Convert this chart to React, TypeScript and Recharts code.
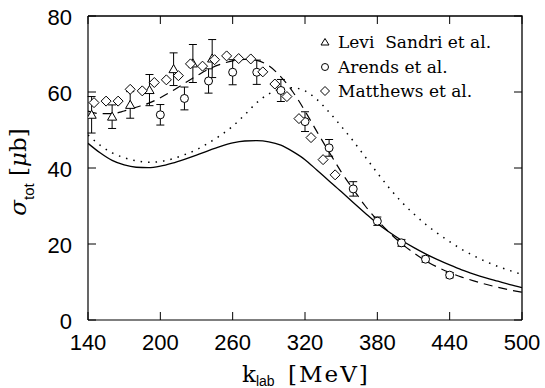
import { ComposedChart, Line, Scatter, XAxis, YAxis, ErrorBar, Legend, Label } from 'recharts';

// photon energy grid for the model curves (MeV)
const energyGrid = [140, 150, 160, 170, 180, 190, 200, 210, 220, 230, 240, 250, 260, 270, 280, 290, 300, 310, 320, 330, 340, 350, 360, 370, 380, 390, 400, 410, 420, 430, 440, 450, 460, 470, 480, 490, 500];
const solidCurve = [46.5, 44, 42, 40.8, 40.2, 40.1, 40.5, 41.3, 42.3, 43.4, 44.6, 45.7, 46.6, 47.1, 47.2, 46.9, 46, 44.3, 42.2, 39.4, 36.6, 33.8, 30.9, 28.1, 25.4, 23.1, 21, 19.1, 17.4, 15.9, 14.5, 13.2, 12.1, 11.1, 10.2, 9.3, 8.5];
const dottedCurve = [48.7, 46, 44, 42.7, 41.9, 41.5, 41.7, 42.4, 43.5, 44.8, 46.6, 48.6, 51, 54, 57.2, 59.5, 60.8, 61.1, 60.3, 58, 54.7, 51, 47.1, 42.9, 38.7, 34.7, 31.1, 28, 25.2, 22.8, 20.6, 18.6, 16.9, 15.4, 14.1, 13, 12];
const dashedCurve = [55, 54.3, 54.3, 55, 56, 57, 58.5, 60.3, 62.3, 64.2, 66, 67.3, 68.2, 68.6, 68.3, 66.9, 64, 60, 55, 49.5, 44.2, 39, 34.4, 30, 26.3, 23, 20.1, 17.7, 15.6, 13.9, 12.5, 11.3, 10.3, 9.4, 8.6, 7.9, 7.3];

// Levi Sandri et al.
const leviX = [143, 160, 175, 191, 211, 227, 243];
const leviY = [54, 53.5, 56.6, 60.5, 66, 67.5, 68.8];
const leviErr = [4.8, 3.1, 3.5, 4.1, 4.3, 5, 5];

// Arends et al.
const arendsX = [200, 220, 240, 260, 280, 300, 320, 340, 360, 380, 400, 420, 440];
const arendsY = [54, 58.3, 62.9, 65.2, 65.2, 60.4, 52.2, 45.3, 34.5, 26, 20.3, 16, 11.8];
const arendsErr = [2.7, 3, 3.2, 3.3, 3.2, 2.9, 2.6, 2.2, 1.9, 1.1, 0.9, 0.8, 0.7];

// Matthews et al.
const matthewsX = [145, 155, 165, 175, 185, 195, 205, 215, 225, 235, 245, 255, 265, 275, 285, 295, 305, 315, 325, 335, 345];
const matthewsY = [57.2, 57.6, 57.6, 60.7, 60.3, 62.5, 63.2, 64.3, 67.4, 66.8, 68.5, 69.5, 68.8, 68.7, 65.3, 62.1, 58.8, 53, 48, 42.2, 38.2];

const xTicks = [140, 200, 260, 320, 380, 440, 500];
const yTicks = [0, 20, 40, 60, 80];
const xDomain = [140, 500];
const yDomain = [0, 80];

const toRows = (xs: number[], ys: number[], errs?: number[]) =>
  xs.map((x, i) => ({ x, y: ys[i], err: errs ? errs[i] : 0 }));

const solidRows = toRows(energyGrid, solidCurve);
const dottedRows = toRows(energyGrid, dottedCurve);
const dashedRows = toRows(energyGrid, dashedCurve);
const leviRows = toRows(leviX, leviY, leviErr);
const arendsRows = toRows(arendsX, arendsY, arendsErr);
const matthewsRows = toRows(matthewsX, matthewsY);

const W = 545;
const H = 388;
const margin = { top: 16, right: 23, bottom: 0, left: 0 };
const Y_AXIS_W = 88;
const X_AXIS_H = 68;
const PLOT_L = margin.left + Y_AXIS_W;
const PLOT_T = margin.top;
const PLOT_W = W - margin.left - margin.right - Y_AXIS_W;
const PLOT_H = H - margin.top - margin.bottom - X_AXIS_H;
const TICK = 8;

const TriangleMark = (p: any) => {
  const { cx, cy } = p;
  const s = 4.6;
  return (
    <polygon
      points={`${cx},${cy - s} ${cx + s},${cy + s * 0.75} ${cx - s},${cy + s * 0.75}`}
      fill="#fff"
      stroke="#000"
      strokeWidth={1}
    />
  );
};

const CircleMark = (p: any) => <circle cx={p.cx} cy={p.cy} r={4} fill="#fff" stroke="#000" strokeWidth={1} />;

const DiamondMark = (p: any) => {
  const { cx, cy } = p;
  const s = 5;
  return (
    <polygon
      points={`${cx},${cy - s} ${cx + s},${cy} ${cx},${cy + s} ${cx - s},${cy}`}
      fill="#fff"
      stroke="#000"
      strokeWidth={1}
    />
  );
};

const legendItems = [
  { name: 'Levi  Sandri et al.', mark: 'tri' },
  { name: 'Arends et al.', mark: 'circ' },
  { name: 'Matthews et al.', mark: 'dia' },
];

const LegendBox = () => (
  <div style={{ fontFamily: '"DejaVu Serif", serif', fontSize: 17, color: '#000' }}>
    {legendItems.map((it) => (
      <div key={it.name} style={{ display: 'flex', alignItems: 'center', height: 24.5 }}>
        <svg width={14} height={14}>
          {it.mark === 'tri' && <polygon points="7,3.5 11,10 3,10" fill="none" stroke="#000" strokeWidth={1} />}
          {it.mark === 'circ' && <circle cx={7} cy={7} r={3.5} fill="none" stroke="#000" strokeWidth={1} />}
          {it.mark === 'dia' && <polygon points="7,2.5 11.5,7 7,11.5 2.5,7" fill="none" stroke="#000" strokeWidth={1} />}
        </svg>
        <span style={{ marginLeft: 6, whiteSpace: 'pre' }}>{it.name}</span>
      </div>
    ))}
  </div>
);

const YTitle = () => (
  <text transform="translate(26,172) rotate(-90)" textAnchor="middle" fill="#000" fontSize={23} fontFamily="DejaVu Serif">
    <tspan fontStyle="italic">σ</tspan>
    <tspan fontFamily="Liberation Sans" fontSize={15} dy={8}>tot</tspan>
    <tspan dy={-8}>{'  ['}</tspan>
    <tspan fontStyle="italic">μ</tspan>
    <tspan>b]</tspan>
  </text>
);

const XTitle = () => (
  <text x={242} y={382} fill="#000" fontSize={23} fontFamily="DejaVu Serif">
    <tspan>k</tspan>
    <tspan fontFamily="Liberation Sans" fontSize={14} dy={4}>lab</tspan>
    <tspan x={288} dy={-4} letterSpacing={2}>[MeV]</tspan>
  </text>
);

const labelFont = { fill: '#000', fontSize: 22, fontFamily: '"Liberation Sans", Arial, sans-serif' };

// inward ticks, placed from the tick positions recharts hands to the renderer
const BottomTick = (p: any) => (
  <g>
    <line x1={p.x} y1={p.y} x2={p.x} y2={p.y - TICK} stroke="#000" strokeWidth={1} />
    <text x={p.x} y={p.y + 30} textAnchor="middle" {...labelFont}>{p.payload.value}</text>
  </g>
);

const LeftTick = (p: any) => (
  <g>
    <line x1={p.x} y1={p.y} x2={p.x + TICK} y2={p.y} stroke="#000" strokeWidth={1} />
    <text x={p.x - 16} y={p.y + 9} textAnchor="end" {...labelFont}>{p.payload.value}</text>
  </g>
);

// top and right edges of the box with their inward ticks
const px = (v: number) => PLOT_L + ((v - xDomain[0]) / (xDomain[1] - xDomain[0])) * PLOT_W;
const py = (v: number) => PLOT_T + PLOT_H - ((v - yDomain[0]) / (yDomain[1] - yDomain[0])) * PLOT_H;
const FrameEdges = () => (
  <svg width={W} height={H} style={{ position: 'absolute', left: 0, top: 0, pointerEvents: 'none' }}>
    <polyline
      points={`${PLOT_L},${PLOT_T} ${PLOT_L + PLOT_W},${PLOT_T} ${PLOT_L + PLOT_W},${PLOT_T + PLOT_H}`}
      fill="none"
      stroke="#000"
      strokeWidth={1.3}
    />
    {xTicks.map((t) => (
      <line key={`t${t}`} x1={px(t)} y1={PLOT_T} x2={px(t)} y2={PLOT_T + TICK} stroke="#000" strokeWidth={1} />
    ))}
    {yTicks.map((t) => (
      <line key={`r${t}`} x1={PLOT_L + PLOT_W} y1={py(t)} x2={PLOT_L + PLOT_W - TICK} y2={py(t)} stroke="#000" strokeWidth={1} />
    ))}
  </svg>
);

export default function App() {
  return (
    <div style={{ position: 'fixed', left: 0, top: 0, width: W, height: H, background: '#fff' }}>
      <ComposedChart width={W} height={H} margin={margin}>
        <XAxis
          xAxisId="b"
          dataKey="x"
          type="number"
          domain={xDomain}
          ticks={xTicks}
          allowDataOverflow
          height={X_AXIS_H}
          tickSize={0}
          tickMargin={0}
          tickLine={false}
          stroke="#000"
          strokeWidth={1.2}
          tick={BottomTick}
          interval={0}
        >
          <Label content={XTitle} />
        </XAxis>
        <YAxis
          yAxisId="l"
          dataKey="y"
          type="number"
          domain={yDomain}
          ticks={yTicks}
          allowDataOverflow
          width={Y_AXIS_W}
          tickSize={0}
          tickMargin={0}
          tickLine={false}
          stroke="#000"
          strokeWidth={1.2}
          tick={LeftTick}
          interval={0}
        >
          <Label content={YTitle} />
        </YAxis>
        <Legend
          layout="horizontal"
          align="center"
          verticalAlign="middle"
          content={LegendBox}
          wrapperStyle={{ left: 318, top: 30, width: 210 }}
        />
        <Line xAxisId="b" yAxisId="l" data={solidRows} dataKey="y" type="monotone" stroke="#000" strokeWidth={1.3} dot={false} isAnimationActive={false} />
        <Line xAxisId="b" yAxisId="l" data={dottedRows} dataKey="y" type="monotone" stroke="#000" strokeWidth={1.5} strokeDasharray="1.5 6" dot={false} isAnimationActive={false} />
        <Line xAxisId="b" yAxisId="l" data={dashedRows} dataKey="y" type="monotone" stroke="#000" strokeWidth={1.2} strokeDasharray="9 6" dot={false} isAnimationActive={false} />
        <Scatter xAxisId="b" yAxisId="l" data={leviRows} dataKey="y" shape={TriangleMark} isAnimationActive={false}>
          <ErrorBar dataKey="err" direction="y" width={4} stroke="#000" strokeWidth={1} />
        </Scatter>
        <Scatter xAxisId="b" yAxisId="l" data={arendsRows} dataKey="y" shape={CircleMark} isAnimationActive={false}>
          <ErrorBar dataKey="err" direction="y" width={4} stroke="#000" strokeWidth={1} />
        </Scatter>
        <Scatter xAxisId="b" yAxisId="l" data={matthewsRows} dataKey="y" shape={DiamondMark} isAnimationActive={false} />
      </ComposedChart>
      <FrameEdges />
    </div>
  );
}
